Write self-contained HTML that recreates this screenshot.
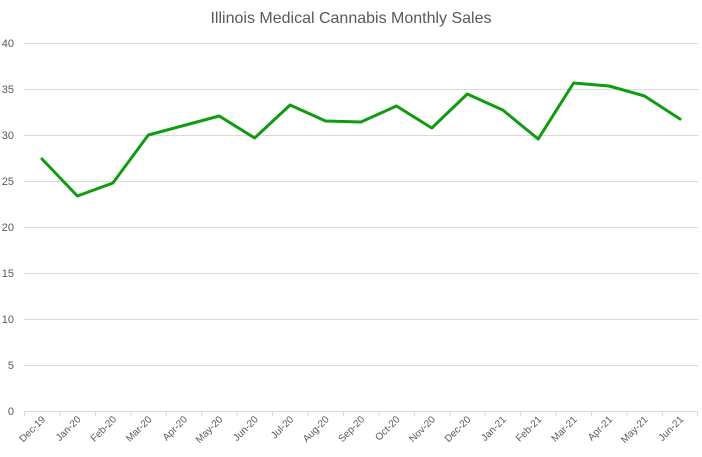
<!DOCTYPE html>
<html><head><style>body{margin:0;background:#fff}svg{display:block}</style></head><body>
<svg width="702" height="457" xmlns="http://www.w3.org/2000/svg" font-family="Liberation Sans, sans-serif">
<rect width="702" height="457" fill="#fff"/>
<text x="351" y="23" text-anchor="middle" font-size="16" fill="#595959">Illinois Medical Cannabis Monthly Sales</text>
<g stroke="#d9d9d9" stroke-width="1">
<line x1="24" x2="698" y1="43.5" y2="43.5"/><line x1="24" x2="698" y1="89.5" y2="89.5"/>
<line x1="24" x2="698" y1="135.5" y2="135.5"/><line x1="24" x2="698" y1="181.5" y2="181.5"/>
<line x1="24" x2="698" y1="227.5" y2="227.5"/><line x1="24" x2="698" y1="273.5" y2="273.5"/>
<line x1="24" x2="698" y1="319.5" y2="319.5"/><line x1="24" x2="698" y1="365.5" y2="365.5"/>
<line x1="24" x2="698" y1="411.5" y2="411.5"/>
</g>
<g stroke="#d9d9d9">
<line x1="24.5" x2="24.5" y1="411" y2="416"/><line x1="60" x2="60" y1="411" y2="416"/><line x1="95.4" x2="95.4" y1="411" y2="416"/><line x1="130.9" x2="130.9" y1="411" y2="416"/><line x1="166.3" x2="166.3" y1="411" y2="416"/><line x1="201.7" x2="201.7" y1="411" y2="416"/><line x1="237.2" x2="237.2" y1="411" y2="416"/><line x1="272.6" x2="272.6" y1="411" y2="416"/><line x1="308" x2="308" y1="411" y2="416"/><line x1="343.5" x2="343.5" y1="411" y2="416"/><line x1="378.9" x2="378.9" y1="411" y2="416"/><line x1="414.4" x2="414.4" y1="411" y2="416"/><line x1="449.8" x2="449.8" y1="411" y2="416"/><line x1="485.2" x2="485.2" y1="411" y2="416"/><line x1="520.7" x2="520.7" y1="411" y2="416"/><line x1="556.1" x2="556.1" y1="411" y2="416"/><line x1="591.5" x2="591.5" y1="411" y2="416"/><line x1="627" x2="627" y1="411" y2="416"/><line x1="662.4" x2="662.4" y1="411" y2="416"/><line x1="697.5" x2="697.5" y1="411" y2="416"/>
</g>
<g font-size="11" fill="#595959" text-anchor="end">
<text x="14" y="47">40</text><text x="14" y="93">35</text><text x="14" y="139">30</text><text x="14" y="185">25</text><text x="14" y="231">20</text><text x="14" y="277">15</text><text x="14" y="323">10</text><text x="14" y="369">5</text><text x="14" y="415">0</text>
</g>
<g font-size="10" fill="#595959" text-anchor="end">
<text transform="translate(46,420) rotate(-45)">Dec-19</text>
<text transform="translate(81.4,420) rotate(-45)">Jan-20</text>
<text transform="translate(116.9,420) rotate(-45)">Feb-20</text>
<text transform="translate(152.3,420) rotate(-45)">Mar-20</text>
<text transform="translate(187.8,420) rotate(-45)">Apr-20</text>
<text transform="translate(223.2,420) rotate(-45)">May-20</text>
<text transform="translate(258.6,420) rotate(-45)">Jun-20</text>
<text transform="translate(294.1,420) rotate(-45)">Jul-20</text>
<text transform="translate(329.5,420) rotate(-45)">Aug-20</text>
<text transform="translate(365,420) rotate(-45)">Sep-20</text>
<text transform="translate(400.4,420) rotate(-45)">Oct-20</text>
<text transform="translate(435.8,420) rotate(-45)">Nov-20</text>
<text transform="translate(471.3,420) rotate(-45)">Dec-20</text>
<text transform="translate(506.7,420) rotate(-45)">Jan-21</text>
<text transform="translate(542.2,420) rotate(-45)">Feb-21</text>
<text transform="translate(577.6,420) rotate(-45)">Mar-21</text>
<text transform="translate(613,420) rotate(-45)">Apr-21</text>
<text transform="translate(648.5,420) rotate(-45)">May-21</text>
<text transform="translate(684,420) rotate(-45)">Jun-21</text>
</g>
<polyline fill="none" stroke="#109c10" stroke-width="3" stroke-linejoin="round" stroke-linecap="round"
points="42,159 77.4,196 112.9,183 148.3,135 183.8,125.5 219.2,116 254.6,138 290.1,105 325.5,121 361,122 396.4,106 431.8,128 467.3,94 502.7,110 538.2,139 573.6,83 609,86 644.5,96 680,119"/>
</svg>
</body></html>
